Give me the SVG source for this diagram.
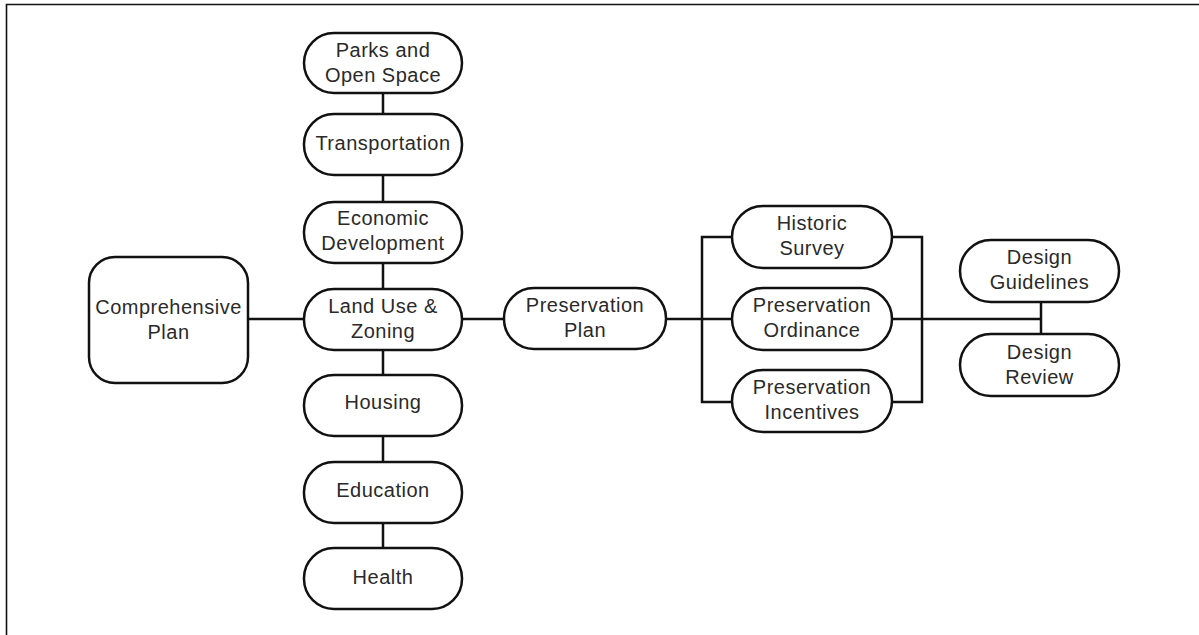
<svg xmlns="http://www.w3.org/2000/svg" width="1199" height="635" viewBox="0 0 1199 635">
<style>
.n{fill:#fff;stroke:#111;stroke-width:2.5}
.t{font-family:"Liberation Sans",Arial,sans-serif;font-size:20px;fill:#2a2a2a;text-anchor:middle;letter-spacing:0.5px}
.c{fill:none;stroke:#111;stroke-width:2.5}
</style>
<rect x="0" y="0" width="1199" height="635" fill="#fff"/>
<path d="M6.5 640 V4.5 H1205" fill="none" stroke="#111" stroke-width="1.6"/>
<g id="connectors">
<line class="c" x1="383" y1="93" x2="383" y2="548"/>
<line class="c" x1="248" y1="319" x2="304" y2="319"/>
<line class="c" x1="462" y1="319" x2="504" y2="319"/>
<line class="c" x1="666" y1="319" x2="732" y2="319"/>
<path class="c" d="M732 237 H702 V402 H732"/>
<path class="c" d="M892 237 H922 V402 H892"/>
<line class="c" x1="892" y1="319" x2="1041" y2="319"/>
<line class="c" x1="1041" y1="302" x2="1041" y2="334"/>
</g>
<g id="comprehensive-plan">
<rect class="n" x="89" y="257" width="159" height="126" rx="26"/>
<text class="t" x="168.5" y="314">Comprehensive</text>
<text class="t" x="168.5" y="339">Plan</text>
</g>
<g id="parks">
<rect class="n" x="304" y="33" width="158" height="60" rx="30"/>
<text class="t" x="383" y="57">Parks and</text>
<text class="t" x="383" y="82">Open Space</text>
</g>
<g id="transportation">
<rect class="n" x="304" y="114" width="158" height="61" rx="30"/>
<text class="t" x="383" y="150">Transportation</text>
</g>
<g id="economic">
<rect class="n" x="304" y="202" width="158" height="61" rx="30"/>
<text class="t" x="383" y="225">Economic</text>
<text class="t" x="383" y="250">Development</text>
</g>
<g id="land-use">
<rect class="n" x="304" y="289" width="158" height="61" rx="30"/>
<text class="t" x="383" y="313">Land Use &amp;</text>
<text class="t" x="383" y="338">Zoning</text>
</g>
<g id="housing">
<rect class="n" x="304" y="375" width="158" height="61" rx="30"/>
<text class="t" x="383" y="409">Housing</text>
</g>
<g id="education">
<rect class="n" x="304" y="462" width="158" height="61" rx="30"/>
<text class="t" x="383" y="497">Education</text>
</g>
<g id="health">
<rect class="n" x="304" y="548" width="158" height="61" rx="30"/>
<text class="t" x="383" y="584">Health</text>
</g>
<g id="preservation-plan">
<rect class="n" x="504" y="288" width="162" height="61" rx="30"/>
<text class="t" x="585" y="312">Preservation</text>
<text class="t" x="585" y="337">Plan</text>
</g>
<g id="historic-survey">
<rect class="n" x="732" y="206" width="160" height="62" rx="31"/>
<text class="t" x="812" y="230">Historic</text>
<text class="t" x="812" y="255">Survey</text>
</g>
<g id="preservation-ordinance">
<rect class="n" x="732" y="288" width="160" height="62" rx="31"/>
<text class="t" x="812" y="312">Preservation</text>
<text class="t" x="812" y="337">Ordinance</text>
</g>
<g id="preservation-incentives">
<rect class="n" x="732" y="370" width="160" height="62" rx="31"/>
<text class="t" x="812" y="394">Preservation</text>
<text class="t" x="812" y="419">Incentives</text>
</g>
<g id="design-guidelines">
<rect class="n" x="960" y="240" width="159" height="62" rx="31"/>
<text class="t" x="1039.5" y="264">Design</text>
<text class="t" x="1039.5" y="289">Guidelines</text>
</g>
<g id="design-review">
<rect class="n" x="960" y="334" width="159" height="62" rx="31"/>
<text class="t" x="1039.5" y="359">Design</text>
<text class="t" x="1039.5" y="384">Review</text>
</g>
</svg>
